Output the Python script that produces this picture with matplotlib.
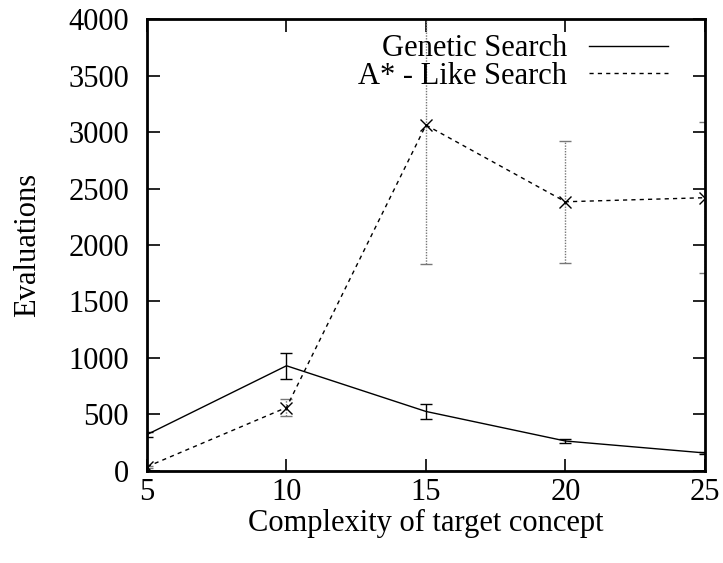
import matplotlib.pyplot as plt
from matplotlib.lines import Line2D

plt.rcParams['font.family'] = ['Liberation Serif', 'DejaVu Serif']

# --- data
complexity = [5, 10, 15, 20, 25]
genetic_mean = [320, 930, 525, 263, 157]
genetic_err = [25, 115, 68, 18, 12]
astar_mean = [35, 560, 3064, 2384, 2420]
astar_err = [10, 75, 1230, 540, 667]

fig = plt.figure(figsize=(7.23, 5.63), dpi=100)
ax = fig.add_axes([0.2033, 0.164, 0.7717, 0.8014])

# --- Genetic search (solid, solid error bars)
ax.errorbar(complexity, genetic_mean, yerr=genetic_err, color='black', lw=1.0,
            ecolor='black', elinewidth=1.0, capsize=4, capthick=1.0, zorder=3)

# --- A*-like search (dashed, dotted grey error bars)
line, caps, bars = ax.errorbar(complexity, astar_mean, yerr=astar_err, color='black',
                               lw=1.0, ls=(0, (3, 3)), marker='x', markersize=9,
                               markeredgewidth=1.0, ecolor='#777777', elinewidth=1.0,
                               capsize=4, capthick=1.0, zorder=2)
for b in bars:
    b.set_linestyle((0, (1, 1)))

ax.set_xlim(5, 25)
ax.set_ylim(0, 4000)
ax.set_xticks([5, 10, 15, 20, 25])
ax.set_yticks(range(0, 4001, 500))
ax.tick_params(direction='in', length=9, width=1.2, top=True, right=True,
               labelsize=22)
ax.tick_params(axis='x', pad=5)
ax.tick_params(axis='y', pad=13)
for s in ax.spines.values():
    s.set_linewidth(2)

ax.set_xlabel('Complexity of target concept', fontsize=22, labelpad=2)
ax.set_ylabel('Evaluations', fontsize=22, labelpad=19)

handles = [Line2D([], [], color='black', lw=1.0),
           Line2D([], [], color='black', lw=1.0, ls=(0, (3, 3)))]
ax.legend(handles, ['Genetic Search', 'A* - Like Search'], loc='upper right',
          bbox_to_anchor=(0.934, 0.967), frameon=False, markerfirst=False,
          fontsize=22, handlelength=2.6, handletextpad=0.7, labelspacing=-0.05,
          borderpad=0, borderaxespad=0)

fig.savefig('out.png', dpi=100)
